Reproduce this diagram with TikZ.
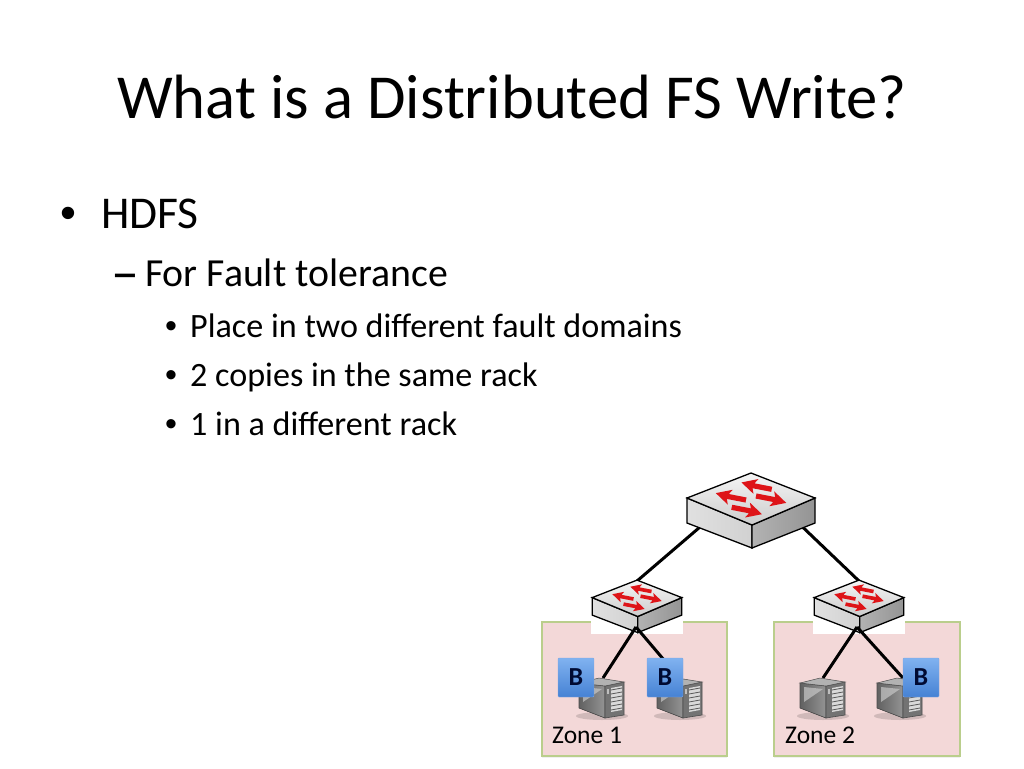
\documentclass[tikz,border=0pt]{standalone}
\usepackage{fontspec}
\setmainfont{Carlito}
\newfontfamily\bulletfont{Liberation Sans}
\usetikzlibrary{shadows}
\definecolor{zonefill}{RGB}{243,216,216}
\definecolor{zoneline}{RGB}{186,206,140}
\definecolor{arrowred}{RGB}{222,20,24}
\definecolor{blocktop}{RGB}{128,178,240}
\definecolor{blockbot}{RGB}{70,130,212}
\definecolor{blockink}{RGB}{0,10,50}
\tikzstyle{zonebox}=[fill=zonefill,draw=zoneline,line width=1.2pt,
                     drop shadow={opacity=.12,shadow xshift=0pt,shadow yshift=-2pt}]
\tikzstyle{zonelabel}=[anchor=base west,inner sep=0pt,font=\fontsize{25.5}{25.5}\selectfont]
\tikzstyle{blockbox}=[rectangle,rounded corners=1pt,minimum width=36pt,minimum height=39pt,inner sep=0pt,
                      top color=blocktop,bottom color=blockbot,draw=blockbot!70,
                      text=blockink,font=\fontsize{26}{26}\selectfont\bfseries]
\tikzstyle{link}=[black,line width=3pt]
\tikzstyle{patch}=[fill=white,draw=none]
\tikzstyle{bodytext}=[anchor=base west,inner sep=0pt]
\newcommand{\redarrow}[3]{%
  \fill[arrowred,shift={(#1,#2)},rotate=#3]
    (0,-2.6) -- (19,-2.6) -- (17,-8) -- (31,1) -- (15,7.5) -- (18,2.6) -- (0,2.6) -- cycle;}
\tikzset{
  pics/switchbox/.style={code={
    \draw[line width=1.3pt,left color=black!12,middle color=black!38,right color=black!18]
      (-64,-12) -- (1,15) -- (1,38) -- (-64,13) -- cycle;
    \draw[line width=1.3pt,left color=black!30,middle color=black!6,right color=black!42]
      (1,15) -- (64,-12) -- (64,13) -- (1,38) -- cycle;
    \draw[line width=1.3pt,top color=black!4,bottom color=black!20]
      (0,-37) -- (64,-12) -- (1,15) -- (-64,-12) -- cycle;
    \redarrow{20.7}{-20.7}{169}
    \redarrow{-5}{-10}{169}
    \redarrow{5}{-14}{-11}
    \redarrow{-19.3}{-2.7}{-11}
  }},
  pics/serverbox/.style={code={
    \fill[black,opacity=.14] (0,18) ellipse (26 and 4);
    \fill[left color=black!62,right color=black!42,draw=black!70,line width=.6pt]
      (-23,-15) -- (3,-12) -- (3,20) -- (-23,10) -- cycle;
    \fill[black!22,opacity=.7] (-19,-11) -- (0,-9) -- (-19,4) -- cycle;
    \fill[black!55,draw=black!70,line width=.6pt]
      (3,-12) -- (22,-16) -- (22,17) -- (3,20) -- cycle;
    \fill[black!30,draw=black!70,line width=.5pt]
      (-23,-15) -- (-3,-20) -- (22,-16) -- (3,-12) -- cycle;
    \fill[black!15] (9,-10) -- (20,-12) -- (20,12) -- (9,14) -- cycle;
    \foreach \gy in {-8,-4,0,4,8,12}
      \draw[black!65,line width=.8pt] (9,\gy) -- (20,\gy-2);
    \fill[black!25] (5,-9) rectangle (7,-4);
  }}
}
\begin{document}
\begin{tikzpicture}[x=1pt,y=-1pt]
    \useasboundingbox (0,0) rectangle (1024,768);
    % slide text
    \node (title) at (512,97) [inner sep=0pt,font=\fontsize{62.6}{62.6}\selectfont]
      {What is a Distributed FS Write?};
    \node (b1) at (60,228) [bodytext,font=\fontsize{45.5}{45.5}\selectfont\bulletfont]{•};
    \node (l1) at (101,228) [bodytext,font=\fontsize{45.5}{45.5}\selectfont]{HDFS};
    \node (b2) at (111,291) [bodytext,font=\fontsize{56}{56}\selectfont]{–};
    \node (l2) at (145,286) [bodytext,font=\fontsize{39.8}{39.8}\selectfont]{For Fault tolerance};
    \foreach \ty/\tx [count=\ti] in {337/Place in two different fault domains,
                                     386/2 copies in the same rack,
                                     435/1 in a different rack} {
      \node (d\ti) at (165,\ty) [bodytext,font=\fontsize{34.1}{34.1}\selectfont\bulletfont]{•};
      \node (t\ti) at (190,\ty) [bodytext,font=\fontsize{34.1}{34.1}\selectfont]{\tx};
    }
    % zones
    \draw[zonebox] (542,622) rectangle (727,756);
    \draw[zonebox] (774,622) rectangle (960,756);
    \fill[patch] (591,612) rectangle (683,634);
    \fill[patch] (813,612) rectangle (905,634);
    \node (zone1) at (552,743) [zonelabel]{Zone 1};
    \node (zone2) at (785,743) [zonelabel]{Zone 2};
    % switches and ports
    \coordinate (corel) at (714,515);
    \coordinate (corer) at (790,515);
    \coordinate (sw1t) at (637,581);
    \coordinate (sw2t) at (859,581);
    \coordinate (sw1b) at (636,627);
    \coordinate (sw2b) at (857,627);
    \coordinate (srv1t) at (603,678);
    \coordinate (srv2t) at (681,680);
    \coordinate (srv3t) at (823,678);
    \coordinate (srv4t) at (903,678);
    \draw[link] (corel) -- (sw1t) (corer) -- (sw2t);
    \pic (core) at (751,510) {switchbox};
    \pic[scale=.7] (sw1) at (637,606) {switchbox};
    \pic[scale=.7] (sw2) at (859,606) {switchbox};
    % servers
    \draw[link] (sw1b) -- (srv1t) (sw1b) -- (srv2t);
    \draw[link] (sw2b) -- (srv3t) (sw2b) -- (srv4t);
    \pic (srv1) at (602,698) {serverbox};
    \pic (srv2) at (680,698) {serverbox};
    \pic (srv3) at (823,698) {serverbox};
    \pic (srv4) at (900,698) {serverbox};
    % blocks
    \node (blk1) at (576,677.5) [blockbox]{B};
    \node (blk2) at (665,677.5) [blockbox]{B};
    \node (blk3) at (921,677.5) [blockbox]{B};
\end{tikzpicture}
\end{document}
